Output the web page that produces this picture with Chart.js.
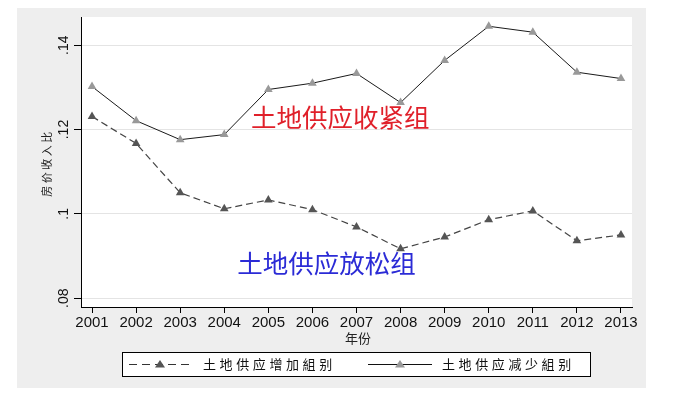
<!DOCTYPE html>
<html><head><meta charset="utf-8">
<script src="https://cdn.jsdelivr.net/npm/chart.js@4/dist/chart.umd.min.js"></script>
<style>html,body{margin:0;padding:0;background:#fff;}#wrap{width:678px;height:397px;position:relative}</style>
</head><body><div id="wrap"><canvas id="c" width="678" height="397"></canvas></div>
<script>
const years = [2001,2002,2003,2004,2005,2006,2007,2008,2009,2010,2011,2012,2013];
const looseValues = [0.1231,0.1167,0.1050,0.1012,0.1033,0.1010,0.0969,0.0917,0.0945,0.0986,0.1007,0.0936,0.0950];
const tightValues = [0.1302,0.1221,0.1176,0.1188,0.1295,0.1310,0.1333,0.1264,0.1364,0.1445,0.1431,0.1336,0.1321];
const yTickValues = [0.08,0.10,0.12,0.14];
const yTickLabels = ['.08','.1','.12','.14'];
const seriesNames = ['土地供应增加組别','土地供应减少組别'];
const annotationTexts = ['土地供应收紧组','土地供应放松组'];
const xTitle = '年份';
const yTitle = '房价收入比';

const CJK = '"Noto Sans CJK SC", "Noto Sans", sans-serif';
const LAT = '"Liberation Sans", Arial, sans-serif';

const decor = {
  id: 'decor',
  beforeDraw(chart) {
    const ctx = chart.ctx, a = chart.chartArea;
    ctx.save();
    ctx.fillStyle = '#ffffff';
    ctx.fillRect(0, 0, chart.width, chart.height);
    ctx.fillStyle = '#eeeeee';
    ctx.fillRect(17, 8, 629, 380);
    ctx.fillStyle = '#ffffff';
    ctx.fillRect(a.left, a.top, a.right - a.left, a.bottom - a.top);
    ctx.restore();
  },
  afterDraw(chart) {
    const ctx = chart.ctx, a = chart.chartArea;
    const ys = chart.scales.y, xs = chart.scales.x;
    ctx.save();
    // y tick labels (rotated)
    ctx.fillStyle = '#111';
    ctx.font = '14px ' + LAT;
    ctx.textAlign = 'center';
    ctx.textBaseline = 'middle';
    yTickValues.forEach((v, i) => {
      const py = ys.getPixelForValue(v);
      ctx.save();
      ctx.translate(64, py);
      ctx.rotate(-Math.PI / 2);
      ctx.fillText(yTickLabels[i], 0, 0);
      ctx.restore();
    });
    // y title
    ctx.save();
    ctx.font = '11px ' + CJK;
    ctx.letterSpacing = '2.5px';
    ctx.translate(47, (a.top + a.bottom) / 2 + 1);
    ctx.rotate(-Math.PI / 2);
    ctx.fillStyle = '#222';
    ctx.fillText(yTitle, 0, 0);
    ctx.restore();
    // x title
    ctx.font = '13px ' + CJK;
    ctx.fillStyle = '#222';
    ctx.fillText(xTitle, 358, 338);
    // annotations
    ctx.font = '25.5px ' + CJK;
    ctx.fillStyle = '#e0202a';
    ctx.fillText(annotationTexts[0], xs.getPixelForValue(2006.63), ys.getPixelForValue(0.1229));
    ctx.fillStyle = '#2b2bd6';
    ctx.fillText(annotationTexts[1], xs.getPixelForValue(2006.32), ys.getPixelForValue(0.0883));
    // legend
    ctx.fillStyle = '#ffffff';
    ctx.fillRect(122.5, 352.5, 468, 24);
    ctx.strokeStyle = '#000';
    ctx.lineWidth = 1;
    ctx.strokeRect(122.5, 352.5, 468, 24);
    const ly = 364.5;
    function tri(cx, cy, color) {
      ctx.fillStyle = color;
      ctx.beginPath();
      ctx.moveTo(cx, cy - 4.5);
      ctx.lineTo(cx + 5, cy + 3);
      ctx.lineTo(cx - 5, cy + 3);
      ctx.closePath();
      ctx.fill();
    }
    ctx.strokeStyle = '#333';
    ctx.setLineDash([8, 5]);
    ctx.beginPath(); ctx.moveTo(129, ly); ctx.lineTo(194, ly); ctx.stroke();
    ctx.setLineDash([]);
    tri(160, ly, '#555');
    ctx.strokeStyle = '#111';
    ctx.beginPath(); ctx.moveTo(368, ly); ctx.lineTo(432, ly); ctx.stroke();
    tri(400, ly, '#999');
    ctx.fillStyle = '#111';
    ctx.font = '13px ' + CJK;
    ctx.textAlign = 'left';
    ctx.letterSpacing = '3.6px';
    ctx.fillText(seriesNames[0], 203, ly);
    ctx.fillText(seriesNames[1], 442, ly);
    ctx.letterSpacing = '0px';
    ctx.restore();
  }
};

new Chart(document.getElementById('c'), {
  type: 'line',
  data: {
    datasets: [
      {
        label: seriesNames[0],
        data: years.map((y, i) => ({x: y, y: looseValues[i]})),
        borderColor: '#444',
        borderWidth: 1.2,
        borderDash: [7, 4],
        pointStyle: 'triangle',
        pointRadius: 5,
        pointBackgroundColor: '#555',
        pointBorderColor: '#555',
        pointBorderWidth: 0,
        tension: 0
      },
      {
        label: seriesNames[1],
        data: years.map((y, i) => ({x: y, y: tightValues[i]})),
        borderColor: '#1a1a1a',
        borderWidth: 1,
        pointStyle: 'triangle',
        pointRadius: 5,
        pointBackgroundColor: '#999',
        pointBorderColor: '#999',
        pointBorderWidth: 0,
        tension: 0
      }
    ]
  },
  options: {
    responsive: false,
    animation: false,
    devicePixelRatio: 1,
    layout: {padding: {left: 17, right: 46, top: 17, bottom: 50}},
    plugins: {legend: {display: false}, tooltip: {enabled: false}},
    scales: {
      x: {
        type: 'linear',
        min: 2000.75,
        max: 2013.25,
        afterBuildTicks: s => { s.ticks = years.map(v => ({value: v})); },
        afterFit: s => { s.height = 40; },
        grid: {drawOnChartArea: false, drawTicks: true, tickLength: 6, color: '#000', tickColor: '#000'},
        border: {display: true, color: '#000', width: 1},
        ticks: {font: {family: LAT, size: 15}, color: '#111', padding: 1, autoSkip: false, maxRotation: 0, callback: v => String(v)}
      },
      y: {
        type: 'linear',
        min: 0.0779,
        max: 0.1467,
        afterBuildTicks: s => { s.ticks = yTickValues.map(v => ({value: v})); },
        afterFit: s => { s.width = 64; },
        grid: {drawOnChartArea: true, drawTicks: true, tickLength: 7, color: '#e4e4e4', tickColor: '#000'},
        border: {display: true, color: '#000', width: 1},
        ticks: {display: false}
      }
    }
  },
  plugins: [decor]
});
</script>
</body></html>
